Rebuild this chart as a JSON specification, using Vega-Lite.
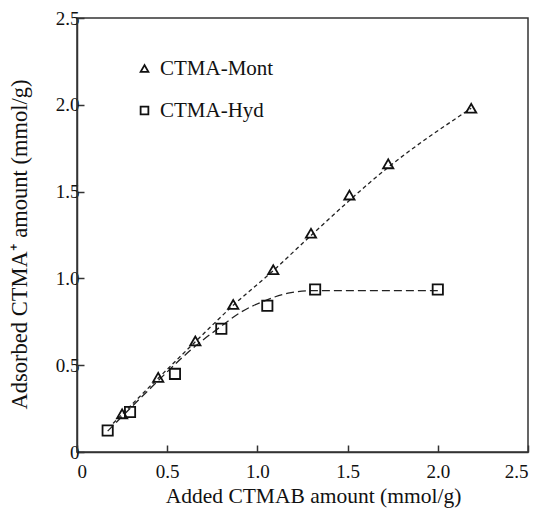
{
  "$schema": "https://vega.github.io/schema/vega-lite/v6.json",
  "width": 451,
  "height": 434,
  "autosize": {"type": "none"},
  "padding": {"left": 77, "top": 18, "right": 14, "bottom": 58},
  "background": "white",
  "config": {
    "font": "Liberation Serif",
    "view": {"stroke": "#333", "strokeWidth": 1.5},
    "axis": {
      "grid": false,
      "domainColor": "#333",
      "domainWidth": 1.5,
      "tickColor": "#333",
      "tickWidth": 1.5,
      "tickSize": -7,
      "labelFont": "Liberation Serif",
      "labelFontSize": 19,
      "labelColor": "#111",
      "titleFont": "Liberation Serif",
      "titleFontWeight": "normal",
      "titleColor": "#111"
    }
  },
  "datasets": {
    "points": [
      {"added": 0.25, "adsorbed": 0.22, "sample": "CTMA-Mont"},
      {"added": 0.45, "adsorbed": 0.43, "sample": "CTMA-Mont"},
      {"added": 0.656, "adsorbed": 0.64, "sample": "CTMA-Mont"},
      {"added": 0.866, "adsorbed": 0.85, "sample": "CTMA-Mont"},
      {"added": 1.088, "adsorbed": 1.05, "sample": "CTMA-Mont"},
      {"added": 1.297, "adsorbed": 1.26, "sample": "CTMA-Mont"},
      {"added": 1.51, "adsorbed": 1.48, "sample": "CTMA-Mont"},
      {"added": 1.725, "adsorbed": 1.66, "sample": "CTMA-Mont"},
      {"added": 2.185, "adsorbed": 1.98, "sample": "CTMA-Mont"},
      {"added": 0.17, "adsorbed": 0.124, "sample": "CTMA-Hyd"},
      {"added": 0.294, "adsorbed": 0.23, "sample": "CTMA-Hyd"},
      {"added": 0.543, "adsorbed": 0.45, "sample": "CTMA-Hyd"},
      {"added": 0.80, "adsorbed": 0.71, "sample": "CTMA-Hyd"},
      {"added": 1.055, "adsorbed": 0.843, "sample": "CTMA-Hyd"},
      {"added": 1.32, "adsorbed": 0.936, "sample": "CTMA-Hyd"},
      {"added": 2.0, "adsorbed": 0.936, "sample": "CTMA-Hyd"}
    ],
    "fitMont": [
      {"added": 0.20, "adsorbed": 0.165},
      {"added": 0.45, "adsorbed": 0.425},
      {"added": 0.656, "adsorbed": 0.635},
      {"added": 0.866, "adsorbed": 0.845},
      {"added": 1.088, "adsorbed": 1.045},
      {"added": 1.30, "adsorbed": 1.25},
      {"added": 1.725, "adsorbed": 1.64},
      {"added": 2.185, "adsorbed": 1.98}
    ],
    "fitHyd": [
      {"added": 0.17, "adsorbed": 0.12},
      {"added": 0.40, "adsorbed": 0.36},
      {"added": 0.656, "adsorbed": 0.61},
      {"added": 0.80, "adsorbed": 0.725},
      {"added": 0.90, "adsorbed": 0.80},
      {"added": 1.05, "adsorbed": 0.875},
      {"added": 1.17, "adsorbed": 0.915},
      {"added": 1.32, "adsorbed": 0.93},
      {"added": 2.0, "adsorbed": 0.93}
    ]
  },
  "layer": [
    {
      "data": {"name": "fitMont"},
      "mark": {"type": "line", "color": "#222", "strokeWidth": 1.3, "strokeDash": [4, 3], "interpolate": "monotone"},
      "encoding": {
        "x": {"field": "added", "type": "quantitative"},
        "y": {"field": "adsorbed", "type": "quantitative"}
      }
    },
    {
      "data": {"name": "fitHyd"},
      "mark": {"type": "line", "color": "#222", "strokeWidth": 1.3, "strokeDash": [8, 4], "interpolate": "monotone"},
      "encoding": {
        "x": {"field": "added", "type": "quantitative"},
        "y": {"field": "adsorbed", "type": "quantitative"}
      }
    },
    {
      "data": {"name": "points"},
      "mark": {"type": "point", "filled": false, "color": "#111", "strokeWidth": 1.8, "size": 105, "opacity": 1},
      "encoding": {
        "x": {
          "field": "added", "type": "quantitative",
          "scale": {"domain": [0, 2.5], "nice": false, "zero": true},
          "axis": {"values": [0, 0.5, 1.0, 1.5, 2.0, 2.5], "labelExpr": "datum.value == 0 ? '0' : format(datum.value, '.1f')", "labelPadding": 17, "title": "Added CTMAB amount (mmol/g)", "titleFontSize": 21.5, "titlePadding": 4, "titleX": 236}
        },
        "y": {
          "field": "adsorbed", "type": "quantitative",
          "scale": {"domain": [0, 2.5], "nice": false, "zero": true},
          "axis": {"values": [0, 0.5, 1.0, 1.5, 2.0, 2.5], "labelExpr": "datum.value == 0 ? '0' : format(datum.value, '.1f')", "labelPadding": 5, "title": "Adsorbed CTMA⁺ amount (mmol/g)", "titleFontSize": 22.5, "titlePadding": 24, "titleY": 226}
        },
        "shape": {
          "field": "sample", "type": "nominal",
          "scale": {"domain": ["CTMA-Mont", "CTMA-Hyd"], "range": ["triangle-up", "square"]},
          "legend": {
            "title": null,
            "orient": "none",
            "legendX": 57,
            "legendY": 40,
            "labelFont": "Liberation Serif",
            "labelFontSize": 21,
            "labelColor": "#111",
            "labelOffset": 5,
            "symbolSize": 60,
            "symbolStrokeColor": "#111",
            "symbolStrokeWidth": 1.8,
            "rowPadding": 20
          }
        }
      }
    }
  ]
}
